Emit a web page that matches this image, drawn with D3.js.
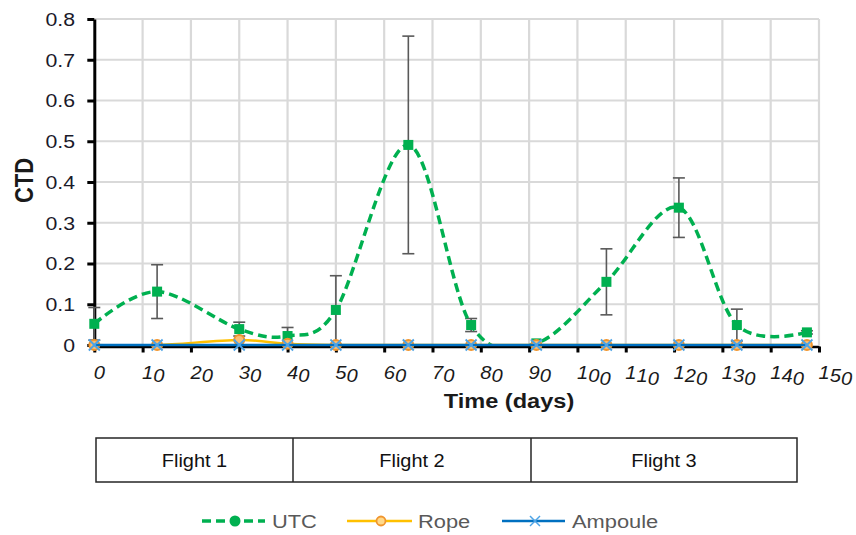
<!DOCTYPE html>
<html>
<head>
<meta charset="utf-8">
<script src="https://cdn.jsdelivr.net/npm/d3@7"></script>
<style>
  body { margin: 0; background: #fff; }
  svg { display: block; }
  text { font-family: "Liberation Sans", Arial, sans-serif; }
</style>
</head>
<body>
<svg id="chart" width="856" height="535"></svg>
<script>
// Sampling days and CTD values for each container type
const days     = [0, 13, 30, 40, 50, 65, 78, 91.5, 106, 121, 133, 147.5];
const utc      = [0.052, 0.131, 0.039, 0.022, 0.086, 0.491, 0.049, 0.004, 0.155, 0.337, 0.049, 0.031];
const utcErr   = [0.040, 0.066, 0.017, 0.021, 0.084, 0.267, 0.016, 0.000, 0.081, 0.073, 0.039, 0.004];
const rope     = [0, 0, 0.012, 0.003, 0, 0, 0, 0, 0, 0, 0, 0];
const ampoule  = [0, 0, 0, 0, 0, 0, 0, 0, 0, 0, 0, 0];

const xTicks = [0, 10, 20, 30, 40, 50, 60, 70, 80, 90, 100, 110, 120, 130, 140, 150];
const yTicks = [0, 0.1, 0.2, 0.3, 0.4, 0.5, 0.6, 0.7, 0.8];
const flights = ["Flight 1", "Flight 2", "Flight 3"];
const seriesNames = ["UTC", "Rope", "Ampoule"];

// Layout
const plot = { left: 94.3, right: 819, top: 19, bottom: 345 };
const SX = 1.15;                       // horizontal widening of the lettering
const FONT = '"Liberation Sans", Arial, sans-serif';
const C = { utc: "#00B050", rope: "#FFC000", ropeMk: "#F0952E", ropeFill: "#F9BE74",
            amp: "#0070C0", ampMk: "#4DA3E6", err: "#595959", grid: "#D9D9D9", text: "#404040" };

const svg = d3.select("#chart");
const x = d3.scaleLinear().domain([0, 150]).range([plot.left, plot.right]);
const y = d3.scaleLinear().domain([0, 0.8]).range([plot.bottom, plot.top]);

// Gridlines
const grid = svg.append("g");
grid.selectAll("line.v").data(xTicks.filter(d => d > 0)).join("line")
  .attr("x1", d => x(d)).attr("x2", d => x(d))
  .attr("y1", y(0.8)).attr("y2", y(0))
  .attr("stroke", C.grid).attr("stroke-width", 2.2);
grid.selectAll("line.h").data(yTicks.filter(d => d > 0)).join("line")
  .attr("x1", x(0)).attr("x2", x(150))
  .attr("y1", d => y(d)).attr("y2", d => y(d))
  .attr("stroke", C.grid).attr("stroke-width", 2.2);

// X axis
const xAxis = svg.append("g").attr("transform", `translate(0,${plot.bottom + 1.5})`)
  .call(d3.axisBottom(x).tickValues(xTicks).tickSize(6).tickSizeOuter(0).tickFormat(""));
xAxis.select(".domain").attr("stroke", "#000").attr("stroke-width", 2.5);
xAxis.selectAll(".tick line").attr("stroke", "#000").attr("stroke-width", 3);
xAxis.selectAll(".tick").each(function (d) {
  const t = d3.select(this).append("text")
    .attr("transform", `translate(-1,${379 - plot.bottom - 1.5}) scale(1.12,1)`)
    .attr("text-anchor", "start")
    .attr("font-size", 18).attr("font-style", "italic").attr("fill", "#1a1a1a")
    .attr("font-family", FONT);
  String(d).split("").forEach((ch, i) => {
    t.append("tspan").attr("dy", i === 0 ? 0 : 3).text(ch);
  });
});

// Y axis
const yAxis = svg.append("g").attr("transform", `translate(${plot.left},0)`)
  .call(d3.axisLeft(y).tickValues(yTicks).tickSize(7).tickSizeOuter(0)
    .tickFormat(d => d === 0 ? "0" : d3.format(".1f")(d)));
yAxis.select(".domain").attr("stroke", "#000").attr("stroke-width", 3);
yAxis.selectAll(".tick line").attr("stroke", "#000").attr("stroke-width", 3);
yAxis.selectAll(".tick text")
  .attr("font-family", FONT).attr("font-size", 18.5).attr("fill", "#1a1a2a")
  .attr("x", -19.3 / SX).attr("dy", "0.35em")
  .attr("transform", `scale(${SX},1)`);

// Axis titles
svg.append("text")
  .attr("transform", `translate(33,180.5) scale(${SX},1) rotate(-90)`)
  .attr("text-anchor", "middle").attr("font-weight", "bold").attr("font-size", 22)
  .attr("fill", "#1a1a1a").text("CTD");
svg.append("text")
  .attr("transform", `translate(509,407.5) scale(${SX},1)`)
  .attr("text-anchor", "middle").attr("font-weight", "bold").attr("font-size", 20.5)
  .attr("fill", "#1a1a1a").text("Time (days)");

// Clip for the smoothed lines
svg.append("clipPath").attr("id", "plotClip").append("rect")
  .attr("x", plot.left).attr("y", plot.top - 2)
  .attr("width", plot.right - plot.left).attr("height", plot.bottom - plot.top + 2);

const line = d3.line().x(d => x(d[0])).y(d => y(d[1])).curve(d3.curveCardinal.tension(0));

// Error bars for UTC
const eb = svg.append("g").attr("stroke", C.err).attr("stroke-width", 1.6);
days.forEach((d, i) => {
  if (utcErr[i] <= 0) return;
  const xi = x(d), hi = y(utc[i] + utcErr[i]), lo = y(Math.max(0, utc[i] - utcErr[i]));
  eb.append("line").attr("x1", xi).attr("x2", xi).attr("y1", hi).attr("y2", lo);
  eb.append("line").attr("x1", xi - 6).attr("x2", xi + 6).attr("y1", hi).attr("y2", hi);
  eb.append("line").attr("x1", xi - 6).attr("x2", xi + 6).attr("y1", lo).attr("y2", lo);
});

// UTC series
svg.append("path").attr("clip-path", "url(#plotClip)")
  .attr("d", line(days.map((d, i) => [d, utc[i]])))
  .attr("fill", "none").attr("stroke", C.utc).attr("stroke-width", 3.5)
  .attr("stroke-dasharray", "9,5");
svg.append("g").selectAll("rect").data(days.map((d, i) => [d, utc[i]])).join("rect")
  .attr("x", d => x(d[0]) - 5).attr("y", d => y(d[1]) - 5)
  .attr("width", 10).attr("height", 10).attr("fill", C.utc);

// Rope series
svg.append("path").attr("clip-path", "url(#plotClip)")
  .attr("d", line(days.map((d, i) => [d, rope[i]])))
  .attr("fill", "none").attr("stroke", C.rope).attr("stroke-width", 2.5);
svg.append("g").selectAll("circle").data(days.map((d, i) => [d, rope[i]])).join("circle")
  .attr("cx", d => x(d[0])).attr("cy", d => y(d[1])).attr("r", 5)
  .attr("fill", C.ropeFill).attr("stroke", C.ropeMk).attr("stroke-width", 2);

// Ampoule series
svg.append("path")
  .attr("d", line(days.map((d, i) => [d, ampoule[i]])))
  .attr("fill", "none").attr("stroke", C.amp).attr("stroke-width", 2.5);
const cross = (g, cx, cy, s) => {
  g.append("line").attr("x1", cx - s).attr("x2", cx + s).attr("y1", cy - s).attr("y2", cy + s);
  g.append("line").attr("x1", cx - s).attr("x2", cx + s).attr("y1", cy + s).attr("y2", cy - s);
};
const ampMarks = svg.append("g").attr("stroke", C.ampMk).attr("stroke-width", 1.8);
days.forEach((d, i) => cross(ampMarks, x(d), y(ampoule[i]), 5.5));

// Flight table below the axis
const table = { left: 96, top: 438, bottom: 482, cuts: [96, 293, 531, 797] };
const tg = svg.append("g");
tg.append("rect").attr("x", table.left).attr("y", table.top)
  .attr("width", table.cuts[3] - table.left).attr("height", table.bottom - table.top)
  .attr("fill", "none").attr("stroke", "#262626").attr("stroke-width", 1.5);
[1, 2].forEach(k => tg.append("line")
  .attr("x1", table.cuts[k]).attr("x2", table.cuts[k])
  .attr("y1", table.top).attr("y2", table.bottom)
  .attr("stroke", "#262626").attr("stroke-width", 1.5));
flights.forEach((f, k) => {
  const cx = (table.cuts[k] + table.cuts[k + 1]) / 2;
  tg.append("text").attr("transform", `translate(${cx},467) scale(1.05,1)`)
    .attr("text-anchor", "middle").attr("font-size", 19).attr("fill", "#111").text(f);
});

// Legend
const lg = svg.append("g");
const ly = 521;
lg.append("line").attr("x1", 202).attr("x2", 265).attr("y1", ly).attr("y2", ly)
  .attr("stroke", C.utc).attr("stroke-width", 3.5).attr("stroke-dasharray", "9,5");
lg.append("circle").attr("cx", 235).attr("cy", ly).attr("r", 5.5).attr("fill", C.utc);
lg.append("line").attr("x1", 347).attr("x2", 412).attr("y1", ly).attr("y2", ly)
  .attr("stroke", C.rope).attr("stroke-width", 2.5);
lg.append("circle").attr("cx", 381).attr("cy", ly).attr("r", 4.5)
  .attr("fill", "#FFD98A").attr("stroke", C.ropeMk).attr("stroke-width", 1.8);
lg.append("line").attr("x1", 502).attr("x2", 565).attr("y1", ly).attr("y2", ly)
  .attr("stroke", C.amp).attr("stroke-width", 2.5);
const lc = lg.append("g").attr("stroke", C.ampMk).attr("stroke-width", 1.5);
cross(lc, 535, ly, 5);
[[272, seriesNames[0]], [418, seriesNames[1]], [572, seriesNames[2]]].forEach(([lx, name]) => {
  lg.append("text").attr("transform", `translate(${lx},${ly + 7}) scale(${SX},1)`)
    .attr("font-size", 19).attr("fill", "#595959").text(name);
});
</script>
</body>
</html>
